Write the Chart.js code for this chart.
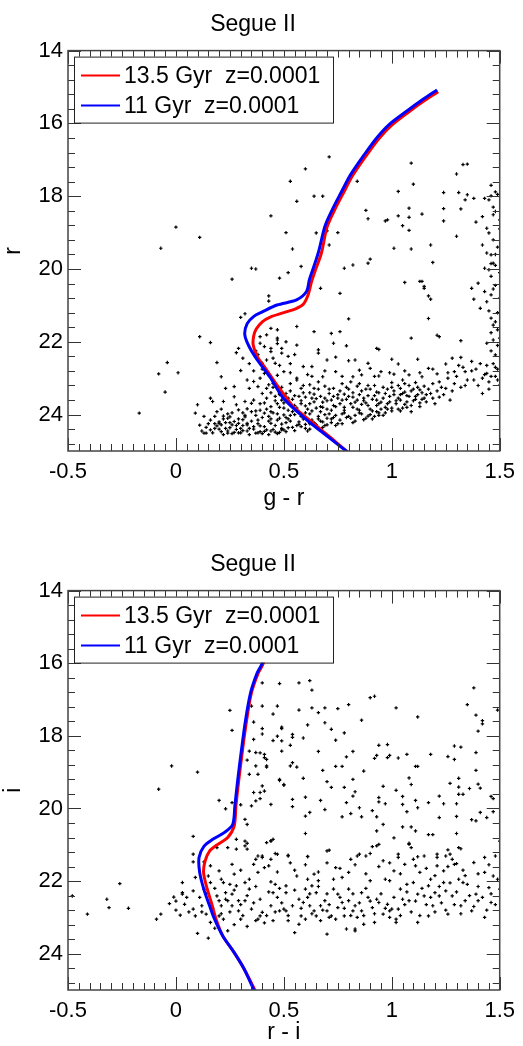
<!DOCTYPE html>
<html>
<head>
<meta charset="utf-8">
<title>Segue II</title>
<script src="https://cdn.jsdelivr.net/npm/chart.js@4/dist/chart.umd.min.js"></script>
<style>
body{margin:0;background:#fff}
#wrap{position:relative;width:523px;height:1046px;overflow:hidden}
.pane{position:absolute;left:0;width:523px}
</style>
</head>
<body>
<div id="wrap">
  <div class="pane" style="top:0;height:540px"><canvas id="cmdGR"></canvas></div>
  <div class="pane" style="top:540px;height:506px"><canvas id="cmdRI"></canvas></div>
</div>
<script>
// --- datos ---
var xTicks=[-0.5,0,0.5,1,1.5];
var yTicks=[14,16,18,20,22,24];
var labelOld='13.5 Gyr  z=0.0001';
var labelYoung='11 Gyr  z=0.0001';

// isocronas panel superior (g-r, r)
var isoOldGR=[[1.215,15.13],[1.15,15.38],[1.08,15.68],[1.00,16.05],[0.94,16.42],[0.88,16.9],[0.82,17.42],[0.775,17.92],[0.735,18.38],[0.70,18.85],[0.674,19.56],[0.645,20.05],[0.628,20.35],[0.613,20.7],[0.59,20.97],[0.559,21.08],[0.50,21.2],[0.437,21.32],[0.40,21.45],[0.372,21.65],[0.36,21.85],[0.358,22.09],[0.377,22.41],[0.415,22.73],[0.46,23.12],[0.505,23.48],[0.544,23.78],[0.635,24.23],[0.72,24.65],[0.80,25.05]];
var isoYoungGR=[[1.21,15.08],[1.14,15.36],[1.07,15.66],[0.99,16.02],[0.93,16.4],[0.87,16.88],[0.81,17.4],[0.765,17.9],[0.725,18.36],[0.69,18.83],[0.662,19.5],[0.635,20.0],[0.618,20.3],[0.605,20.62],[0.559,20.85],[0.468,20.99],[0.40,21.18],[0.361,21.3],[0.33,21.5],[0.319,21.8],[0.339,22.13],[0.377,22.5],[0.437,22.98],[0.498,23.55],[0.589,24.06],[0.681,24.5],[0.80,25.05]];
// isocronas panel inferior (r-i, i)
var isoOldRI=[[0.43,15.2],[0.405,16.0],[0.382,16.26],[0.35,16.81],[0.328,17.55],[0.309,18.37],[0.29,19.28],[0.278,19.93],[0.27,20.48],[0.24,20.8],[0.194,20.99],[0.155,21.18],[0.135,21.45],[0.128,21.76],[0.141,22.13],[0.164,22.59],[0.186,23.05],[0.217,23.51],[0.27,23.97],[0.316,24.42],[0.37,25.05]];
var isoYoungRI=[[0.425,15.2],[0.40,15.99],[0.377,16.26],[0.346,16.81],[0.323,17.55],[0.304,18.37],[0.285,19.28],[0.273,19.93],[0.263,20.44],[0.225,20.66],[0.171,20.85],[0.129,21.05],[0.107,21.35],[0.11,21.76],[0.129,22.22],[0.156,22.68],[0.179,23.05],[0.217,23.51],[0.27,23.97],[0.316,24.42],[0.365,25.05]];

// estrellas panel superior [g-r, r]
var starsGR=[
[0.71,16.92],[0.60,17.25],[1.09,17.09],[0.53,17.59],[0.84,17.59],[1.10,17.67],[1.30,17.39],[1.33,17.13],[1.35,17.12],[0.56,18.14],[0.64,18.0],[0.68,18.0],[1.03,17.87],[1.24,17.9],[1.31,17.9],[1.35,17.96],[1.34,18.1],[1.38,18.06],[1.43,18.06],[1.46,17.99],[1.48,17.88],[1.45,18.1],[0.44,18.54],[0.88,18.39],[0.89,18.62],[0.97,18.68],[1.03,18.54],[1.08,18.33],[1.08,18.58],[1.14,18.49],[1.05,18.81],[1.08,18.94],[1.24,18.34],[1.24,18.68],[1.32,18.35],[1.39,18.71],[1.42,18.56],[1.47,18.51],[1.48,18.42],[1.50,18.65],[1.44,18.88],[1.45,19.01],[1.30,19.1],[0.51,19.0],[0.65,19.01],[0.75,19.0],[0.70,18.95],
[0.54,19.45],[0.71,19.34],[1.01,19.43],[1.09,19.45],[1.18,19.34],[0.98,18.65],[1.42,19.34],[1.44,19.56],[1.46,19.61],[1.47,19.84],[1.45,20.02],[1.43,19.98],[1.40,20.39],[1.37,20.53],[1.43,20.62],[1.38,20.83],[1.41,21.08],[1.44,20.9],[1.46,20.71],[1.47,21.54],[1.49,21.67],[1.47,21.95],[1.44,22.04],[1.48,22.36],[1.44,22.87],[1.49,23.05],[1.50,23.19],[1.42,23.42],[0.48,20.25],[0.52,20.1],[0.58,19.93],[0.67,20.53],[0.76,20.67],[0.78,19.98],[0.82,19.89],[0.89,19.84],[0.90,19.73],[1.06,20.37],[1.13,20.34],[1.14,20.34],[1.15,20.53],[1.15,20.48],[1.17,20.74],[1.18,20.83],[1.19,19.82],[1.17,21.36],[1.21,21.82],[1.22,21.86],[1.32,21.97],[1.09,21.9],[0.80,21.37],[0.76,21.72],[0.72,21.77],[0.64,21.72],[0.56,21.58],[0.47,21.67],[0.47,21.9],[0.49,22.18],[0.56,22.09],[0.44,22.18],[0.39,22.04],[0.73,22.04],[0.79,22.11],[0.66,22.22],[0.66,22.31],[0.70,22.5],[0.74,22.42],[0.80,22.52],[0.83,22.5],[0.93,22.18],[0.94,22.21],[0.89,22.59],[1.00,22.48],[1.03,22.61],[1.12,22.48],[1.17,22.73],[1.25,22.61],[1.28,22.45],[1.32,22.43],[1.37,22.54],[1.29,22.82],[1.34,22.82],[1.21,22.88],[1.14,22.96],[1.08,22.91],[1.05,23.05],[1.01,22.89],[0.95,22.82],[0.94,22.94],[0.90,22.73],[0.86,22.91],[0.82,22.96],[0.74,22.82],[0.68,22.96],[0.63,22.68],[0.59,22.68],[0.56,23.0],
[1.47,19.2],[1.49,19.4],[1.46,20.2],[1.48,20.45],[1.49,21.2],[1.46,21.35],[1.50,21.9],[1.47,22.6],[1.49,22.75],[1.45,23.3],[1.48,19.9],[1.50,20.8],
[1.46,17.7],[1.49,17.95],[1.47,18.3],[1.50,18.9],[1.48,19.6],[1.46,19.85],[1.50,20.1],[1.47,20.55],[1.45,21.15],[1.48,21.45],[1.46,21.75],[1.49,22.1],[1.46,22.25],[1.48,22.95],
[0.00,18.85],[0.11,19.13],[-0.07,19.43],[0.35,19.98],[0.37,20.0],[0.26,20.28],[0.43,20.74],[0.43,20.88],[0.32,21.23],[0.30,21.33],[0.11,21.86],[0.16,22.02],[0.29,22.18],[0.28,22.3],[-0.04,22.57],[0.19,22.57],[-0.08,22.88],[0.01,22.85],[0.30,22.79],[0.21,22.96],[-0.05,23.38],[0.23,23.28],[0.27,23.23],[0.16,23.55],[0.17,23.64],[0.22,23.64],[0.10,23.73],[0.27,23.51],[-0.17,23.96],[0.09,23.96],[0.11,24.29],[0.13,24.51],[0.14,24.51],[0.16,24.15],[0.19,23.92],[0.22,24.04],[0.25,24.06],[0.20,24.24],[0.18,24.38],[0.23,24.38],[0.24,24.51],[0.29,24.24],[0.30,24.38],[0.32,24.06],[0.32,23.64],[0.35,23.69],[0.34,23.28],[0.38,23.23],[0.39,23.0],[0.41,22.87],[0.40,22.59],[0.42,22.5],[0.44,22.27],[0.41,22.13],[0.39,21.86],[0.42,21.81],[0.44,21.63],[0.47,21.95],[0.49,22.31],[0.46,22.59],[0.50,22.82],[0.45,23.14],[0.48,23.42],[0.44,23.78],[0.41,23.96],[0.38,24.15],[0.36,24.33],[0.44,24.24],[0.47,24.15],[0.50,24.01],[0.49,24.42],[0.42,24.42],[0.37,24.51],[0.35,23.92],[0.29,23.87],[0.28,23.73],[0.36,23.09],[0.42,23.28],
[0.34,22.6],[0.36,22.8],[0.38,22.35],[0.43,22.9],[0.45,22.45],[0.48,22.65],[0.52,22.4],[0.53,22.6],[0.37,22.25],[0.40,22.75],[0.47,22.05],[0.51,22.0],[0.55,22.35],[0.31,22.45],[0.33,23.05],
[0.16,24.42],[0.19,24.31],[0.21,24.47],[0.23,24.22],[0.25,24.36],[0.27,24.49],[0.29,24.12],[0.31,24.30],[0.33,24.45],[0.35,24.18],[0.18,24.05],[0.24,23.98],[0.28,24.41],[0.32,24.02],[0.34,24.55],[0.26,24.28],[0.22,24.55],[0.30,24.50],[0.20,24.20],[0.14,24.35],
[0.12,24.45],[0.15,24.25],[0.17,24.50],[0.20,24.40],[0.22,24.12],[0.24,24.45],[0.26,23.95],[0.28,24.30],[0.13,24.05],[0.18,24.25],[0.21,23.85],[0.25,24.22],[0.29,24.50],[0.31,23.95],[0.33,24.28],
[0.36,24.40],[0.38,24.25],[0.39,24.47],[0.40,24.08],[0.41,24.33],[0.42,23.85],[0.43,24.18],[0.44,24.45],[0.45,23.95],[0.46,24.30],[0.47,23.70],[0.48,24.10],[0.49,24.38],[0.50,23.82],[0.51,24.22],[0.52,23.55],[0.53,24.02],[0.54,24.35],[0.55,23.75],[0.37,23.90],[0.39,23.70],[0.42,23.55],[0.44,23.40],[0.46,24.48],[0.48,23.45],[0.50,24.42],[0.52,24.12],[0.54,23.92],[0.40,24.52],[0.43,24.55],[0.47,24.52],[0.51,24.47],[0.53,23.35],[0.45,23.25],[0.49,23.60],
[0.56,24.30],[0.57,23.50],[0.58,24.05],[0.59,23.20],[0.60,24.38],[0.61,23.85],[0.62,23.40],[0.63,24.15],[0.64,23.65],[0.65,24.28],[0.66,23.10],[0.67,23.92],[0.68,24.35],[0.69,23.55],[0.70,24.10],[0.71,23.30],[0.72,24.22],[0.73,23.75],[0.74,24.02],[0.75,23.45],[0.56,23.05],[0.58,23.70],[0.60,23.95],[0.62,24.25],[0.64,23.28],[0.66,24.05],[0.68,23.80],[0.70,23.62],[0.72,23.88],[0.74,24.30],[0.57,24.20],[0.61,24.45],[0.63,23.55],[0.65,23.82],[0.67,24.18],[0.69,24.30],[0.71,23.98],[0.73,23.50],[0.59,23.40],[0.63,22.95],
[0.76,24.15],[0.77,23.60],[0.78,23.95],[0.79,23.25],[0.80,24.05],[0.81,23.70],[0.82,23.40],[0.83,24.18],[0.84,23.85],[0.85,23.15],[0.86,23.98],[0.87,23.55],[0.88,24.10],[0.89,23.75],[0.90,23.30],[0.91,23.90],[0.92,24.05],[0.93,23.60],[0.94,23.40],[0.95,23.85],[0.76,23.35],[0.78,23.80],[0.80,23.50],[0.82,24.22],[0.84,23.60],[0.86,23.35],[0.88,23.68],[0.90,24.00],[0.92,23.48],[0.94,23.95],[0.77,24.25],[0.81,23.10],[0.85,23.88],[0.89,23.20],[0.93,23.75],
[0.96,23.55],[0.97,23.80],[0.98,23.30],[0.99,23.65],[1.00,23.90],[1.01,23.45],[1.02,23.70],[1.03,23.20],[1.04,23.60],[1.05,23.82],[1.06,23.38],[1.07,23.65],[1.08,23.50],[1.09,23.75],[1.10,23.30],[1.11,23.58],[1.12,23.45],[1.13,23.68],[1.14,23.40],[1.15,23.55],[0.97,23.95],[1.00,23.25],[1.03,23.85],[1.06,23.15],[1.09,23.92],[1.12,23.25],[0.98,23.70],[1.04,23.45],
[1.17,23.30],[1.19,23.55],[1.22,23.10],[1.24,23.45],[1.26,23.00],[1.28,23.35],[1.30,22.95],[1.32,23.25],[1.35,23.05],[1.37,22.80],[1.40,23.20],[1.43,22.90],[1.45,23.10],[1.48,22.70],[1.20,23.70],[1.27,23.60],[1.33,22.70],[1.41,22.60],
[0.31,24.44],[0.38,24.50],[0.45,24.41],[0.52,24.36],[0.58,24.33],[0.62,24.40],[0.66,24.36],[0.70,24.28],[0.26,24.52],[0.34,24.38],[0.41,24.46],[0.48,24.49],[0.55,24.44],[0.60,24.27],
[0.21,24.28],[0.27,24.19],[0.33,24.24],[0.39,24.31],[0.44,24.12],[0.49,24.26],[0.53,24.18],[0.57,24.27],[0.61,24.14],[0.64,24.22],[0.68,24.20],[0.72,24.12],[0.75,24.25],[0.79,24.08],[0.83,24.02],[0.87,24.14],[0.91,24.12],[0.94,24.02],
[0.24,24.10],[0.31,24.14],[0.37,24.02],[0.43,24.05],[0.47,23.98],[0.51,24.08],[0.55,24.00],[0.59,24.12],[0.62,23.98],[0.66,24.12],[0.69,24.00],[0.73,24.08],[0.77,23.98],[0.81,24.10],[0.85,23.95],[0.89,24.04],[0.93,23.92],[0.96,24.02],[1.00,23.82],[1.04,23.90],[1.07,23.80],
[0.33,23.84],[0.39,23.88],[0.44,23.92],[0.48,23.80],[0.52,23.88],[0.56,23.82],[0.60,23.76],[0.63,23.90],[0.67,23.78],[0.70,23.85],[0.74,23.78],[0.78,23.88],[0.82,23.80],[0.86,23.72],[0.90,23.85],[0.94,23.70],[0.98,23.85],[1.02,23.62],[1.06,23.72],[1.10,23.62],[1.13,23.78],[1.16,23.65],
[0.36,23.60],[0.41,23.68],[0.46,23.62],[0.50,23.68],[0.54,23.58],[0.58,23.62],[0.62,23.70],[0.65,23.56],[0.68,23.66],[0.72,23.60],[0.76,23.70],[0.79,23.58],[0.83,23.66],[0.87,23.62],[0.91,23.58],[0.95,23.66],[0.99,23.50],[1.03,23.55],[1.07,23.48],[1.11,23.50],[1.14,23.58],[1.18,23.42],[1.22,23.52],
[0.40,23.42],[0.46,23.50],[0.51,23.42],[0.55,23.48],[0.60,23.52],[0.64,23.44],[0.67,23.50],[0.71,23.42],[0.75,23.55],[0.78,23.44],[0.82,23.52],[0.85,23.45],[0.89,23.48],[0.93,23.38],[0.97,23.42],[1.01,23.35],[1.05,23.42],[1.09,23.35],[1.13,23.32],[1.16,23.45],[1.21,23.35],[1.25,23.28],
[0.43,23.18],[0.49,23.25],[0.53,23.15],[0.58,23.28],[0.62,23.18],[0.66,23.30],[0.69,23.22],[0.73,23.28],[0.77,23.15],[0.80,23.30],[0.84,23.22],[0.88,23.30],[0.92,23.20],[0.96,23.25],[1.00,23.12],[1.04,23.28],[1.08,23.20],[1.11,23.12],[1.15,23.22],[1.19,23.15],[1.23,23.25],[1.29,23.15],[1.34,23.20],[1.38,23.05],[1.42,23.00],[1.46,22.95],
[0.47,22.92],[0.53,22.85],[0.61,22.90],[0.69,22.80],[0.77,22.95],[0.85,22.78],[0.92,22.95],[0.99,22.85],[1.06,22.80],[1.13,22.85],[1.19,22.75],[1.26,22.85],[1.31,22.65],[1.39,22.75],[1.44,22.65]
];

// estrellas panel inferior [r-i, i]
var starsRI=[
[0.48,16.56],[0.57,16.54],[0.62,16.48],[0.63,16.74],[0.90,16.95],[0.92,16.91],[1.38,16.68],[0.40,17.18],[0.47,17.18],[0.57,17.29],[0.63,17.23],[0.69,17.23],[0.66,17.36],[0.75,17.25],[0.80,17.14],[1.02,17.23],[1.12,17.48],[0.86,17.57],[1.35,17.14],[1.39,17.43],[1.42,17.58],[1.42,17.67],[1.49,17.29],[0.45,17.4],[0.61,17.7],[0.69,17.64],[0.72,17.82],[0.78,17.92],[0.40,17.8],[0.40,17.95],[0.49,17.76],[0.47,18.01],[0.45,18.13],[0.49,18.14],[0.54,17.96],[0.54,18.04],[0.59,18.06],[0.53,18.26],[0.49,18.42],[0.74,18.12],[1.40,17.87],[0.39,18.47],[0.41,18.51],[0.41,18.6],[0.66,18.43],[0.82,18.43],[0.79,18.58],[0.94,18.26],[0.98,18.24],[0.93,18.54],[0.92,18.62],[0.98,18.6],[0.99,18.54],[1.03,18.61],[1.07,18.51],[1.18,18.51],[1.29,18.28],[1.32,18.31],[1.26,18.57],[1.29,18.65],[1.39,18.46],[0.42,18.86],[0.53,18.83],[0.54,18.74],[0.56,18.86],[0.74,18.84],[0.77,18.84],[0.68,18.95],[0.87,18.97],[1.11,18.84],[1.12,18.84],[1.39,18.95],[0.59,19.17],[0.48,19.23],[0.50,19.36],[0.70,19.26],[0.72,19.42],[0.82,19.2],[0.78,19.42],[0.96,19.39],[1.02,19.5],[1.08,19.16],[1.09,19.34],[1.27,19.31],[1.31,19.17],[1.31,19.41],[1.40,19.33],[1.41,19.44],[1.36,19.45],[1.31,19.61],[1.33,19.61],[1.46,19.67],[1.47,19.73],[0.39,19.56],[0.41,19.52],[0.54,19.75],[0.54,19.95],[0.60,19.69],[0.44,19.89],[0.67,19.78],[0.79,19.84],[0.82,19.66],[0.83,19.54],[0.94,19.7],[0.94,19.82],[0.97,19.87],[1.05,19.67],[1.05,19.89],[1.11,19.78],[1.12,19.98],[1.17,19.84],[1.22,19.66],[1.24,19.87],[1.30,19.87],[0.69,20.03],[0.62,20.11],[0.60,20.21],[0.77,20.23],[0.81,20.14],[0.85,19.98],[0.86,20.23],[0.91,20.06],[0.93,20.23],[0.96,20.44],[1.07,20.09],[1.22,20.25],[1.30,20.22],[1.37,20.31],[1.39,20.34],[1.41,20.11],[1.44,20.25],[1.47,20.09],[0.44,20.89],[0.60,20.69],[0.93,20.62],[1.01,20.81],[1.05,20.51],[1.09,20.51],[1.11,20.62],[1.17,20.72],[1.19,20.72],[1.30,20.69],[1.08,20.96],[1.09,21.08],[0.91,21.05],[0.94,20.99],[0.71,21.15],[0.61,21.33],[0.52,21.31],[0.46,21.24],[0.44,21.4],[0.40,21.31],[0.81,21.4],[0.84,21.31],[0.88,21.31],[0.90,21.24],[0.96,21.44],[1.03,21.26],[1.03,21.35],[1.12,21.33],[1.15,21.31],[1.21,21.26],[1.21,21.35],[1.25,21.31],[1.26,21.14],[1.31,21.08],[1.32,21.11],[1.28,21.4],[1.30,21.52],[1.38,21.49],[1.43,21.35],[1.48,21.31],[1.50,20.9],
[0.25,17.3],[0.26,17.85],[-0.02,18.83],[0.10,19.0],[-0.08,19.47],[0.20,19.78],[0.26,19.84],[0.23,20.01],[0.08,20.77],[0.30,19.9],[0.32,20.3],[0.33,20.44],[0.35,17.18],[0.36,17.62],[0.40,16.54],[0.36,18.1],[0.34,18.42],[0.37,18.46],[0.42,18.65],[0.33,18.67],[0.37,18.83],[0.42,18.83],[0.34,19.06],[0.38,19.06],[0.49,17.8],[0.50,19.34],[0.48,19.2],[0.40,19.38],[0.36,19.56],[0.39,19.73],[0.35,19.93],[0.37,19.79],[0.28,20.85],[0.24,21.08],[0.28,21.12],[0.32,20.9],[0.33,20.96],[0.33,21.12],[0.44,20.9],[0.47,21.26],[0.38,21.31],[0.37,21.4],[0.19,21.08],[0.08,21.26],[0.08,21.47],[0.13,21.47],
[-0.26,22.07],[-0.48,22.41],[-0.32,22.5],[-0.31,22.73],[-0.22,22.75],[-0.41,22.91],[-0.09,23.05],[-0.07,22.91],[-0.03,22.62],[-0.01,22.44],[0.00,22.8],[0.02,22.94],[0.00,22.55],[0.03,22.32],[0.03,22.36],[0.03,22.04],[0.04,22.64],[0.08,22.27],[0.08,22.77],[0.09,22.96],[0.09,21.9],[0.10,23.44],[0.15,23.57],[0.11,22.45],[0.12,22.68],[0.13,22.22],[0.14,22.91],[0.16,23.14],[0.15,21.86],[0.16,22.04],[0.16,21.58],[0.20,21.72],[0.19,22.41],[0.21,22.68],[0.20,22.96],[0.22,23.05],[0.24,23.37],[0.22,22.04],[0.23,22.32],[0.25,22.09],[0.26,21.54],[0.27,21.81],[0.28,22.13],[0.29,22.54],[0.26,22.68],[0.29,22.82],[0.30,23.05],[0.32,22.54],[0.32,22.04],[0.34,22.22],[0.35,22.77],[0.37,23.09],[0.38,23.05],[0.39,22.96],[0.40,22.86],[0.36,21.54],[0.40,21.35],[0.38,21.76],[0.41,21.63],[0.43,21.58],[0.44,22.02],[0.46,22.09],[0.45,22.32],[0.47,22.45],[0.44,22.68],[0.48,22.82],[0.45,23.09],[0.51,22.32],[0.50,22.77],[0.42,20.94],[0.32,21.03],[0.45,20.85],[0.26,22.36],[0.24,22.54],[0.20,22.54],
[0.52,21.29],[0.61,21.32],[0.70,21.17],[0.51,22.13],[0.51,22.82],[0.52,23.09],[0.54,22.68],[0.55,23.42],[0.56,21.86],[0.57,23.19],[0.57,22.5],[0.58,22.96],[0.59,22.59],[0.60,22.22],[0.61,21.95],[0.61,22.45],[0.62,22.68],[0.63,22.13],[0.64,22.82],[0.64,21.81],[0.65,22.32],[0.65,22.96],[0.66,21.99],[0.67,22.68],[0.67,23.09],[0.69,22.54],[0.70,23.46],[0.70,22.82],[0.71,23.0],[0.72,22.96],[0.73,21.95],[0.73,22.22],[0.74,21.63],[0.75,22.36],[0.75,22.73],[0.77,21.9],[0.77,22.59],[0.78,22.96],[0.79,23.32],[0.80,22.22],[0.80,21.76],[0.80,22.54],[0.82,22.82],[0.83,23.32],[0.83,22.68],[0.84,23.0],[0.85,21.26],[0.86,22.32],[0.86,22.82],[0.87,23.19],[0.89,22.45],[0.90,21.99],[0.91,22.73],[0.92,23.14],[0.93,22.5],[0.93,21.03],[0.94,22.59],[0.96,22.91],[0.97,21.95],[0.98,22.64],[0.99,22.82],[0.99,21.99],[1.00,22.77],[1.01,21.72],[1.02,23.05],[1.03,22.77],[1.04,22.22],[1.05,22.5],[1.06,21.54],[1.07,22.09],[1.08,20.99],[1.08,22.54],[1.10,22.04],[1.11,21.58],[1.12,23.14],[1.12,22.36],[1.13,21.76],[1.15,22.41],[1.17,22.96],[1.17,22.13],[1.18,21.95],[1.20,22.32],[1.19,22.68],[1.21,21.58],[1.22,22.41],[1.24,21.72],[1.24,22.04],[1.25,22.27],[1.26,22.91],[1.27,21.26],[1.28,22.41],[1.29,21.54],[1.31,21.95],[1.32,22.68],[1.33,22.04],[1.34,22.54],[1.35,22.09],[1.37,22.82],[1.39,22.36],[1.40,22.54],[1.43,23.0],[1.43,21.76],[1.45,22.18],[1.46,22.59],[1.47,21.86],[1.50,22.22],[0.83,23.37],[1.02,23.14],
[0.52,22.95],[0.55,22.25],[0.58,22.75],[0.60,23.05],[0.62,22.35],[0.63,22.90],[0.66,22.15],[0.68,22.80],[0.70,22.35],[0.71,22.65],[0.74,23.05],[0.76,22.45],[0.78,22.75],[0.81,22.95],[0.82,22.35],[0.85,22.60],[0.87,22.95],[0.88,22.20],[0.90,22.55],[0.92,22.90],[0.95,22.35],[0.97,22.75],[0.99,23.00],[1.01,22.45],[1.04,22.95],[1.06,22.65],[1.07,22.30],[1.09,22.85],[1.11,22.55],[1.13,22.95],[1.14,22.20],[1.16,22.65],[1.18,22.45],[1.20,22.85],[1.22,22.15],[1.23,22.60],[1.25,22.80],[1.27,22.05],[1.29,22.65],[1.30,22.30],[1.32,22.90],[1.34,21.85],[1.36,22.40],[1.38,22.70],[1.40,22.15],[1.42,22.45],[1.44,22.80],[1.46,22.35],[1.48,22.65],[1.49,21.95],
[0.55,21.70],[0.60,21.55],[0.66,21.75],[0.70,21.50],[0.76,21.65],[0.83,21.55],[0.88,21.80],[0.94,21.60],[0.99,21.50],[1.04,21.80],[1.10,21.40],[1.16,21.65],[1.20,21.85],[1.26,21.60],[1.33,21.70],[1.40,21.80],[1.45,21.55],
[0.12,22.85],[0.14,22.35],[0.17,22.75],[0.18,22.20],[0.21,22.90],[0.23,22.50],[0.25,22.85],[0.27,22.25],[0.30,22.65],[0.31,22.95],[0.33,22.40],[0.36,22.60],[0.37,22.15],[0.39,22.50],[0.42,22.95],[0.43,22.30],[0.46,22.85],[0.48,22.20],[0.49,22.60],[0.41,23.15],[0.27,23.20],[0.33,23.25],[0.18,23.30],[0.06,22.85],[0.05,22.45],[0.21,21.95],[0.30,21.70],[0.34,21.95],[0.47,21.75],[0.53,21.50]
];

var FONT='"Liberation Sans", Arial, Helvetica, sans-serif';

function toXY(list){return list.map(function(p){return{x:p[0],y:p[1]};});}

// marco con marcas hacia dentro en los cuatro lados (estilo IDL)
var idlFrame={
  id:'idlFrame',
  afterDatasetsDraw:function(chart){
    var a=chart.chartArea,ctx=chart.ctx,sx=chart.scales.x,sy=chart.scales.y,i,v,p,len;
    ctx.save();
    ctx.strokeStyle='#333';
    ctx.lineWidth=1;
    ctx.beginPath();
    for(i=0;i<=40;i++){
      v=sx.min+i*0.05;p=Math.round(sx.getPixelForValue(v))+0.5;len=(i%10===0)?13:7;
      ctx.moveTo(p,a.bottom);ctx.lineTo(p,a.bottom-len);
      ctx.moveTo(p,a.top);ctx.lineTo(p,a.top+len);
    }
    for(i=0;i<=27;i++){
      v=sy.min+i*0.4;if(v>sy.max+1e-6)break;
      p=Math.round(sy.getPixelForValue(v))+0.5;len=(i%5===0)?13:7;
      ctx.moveTo(a.left,p);ctx.lineTo(a.left+len,p);
      ctx.moveTo(a.right,p);ctx.lineTo(a.right-len,p);
    }
    ctx.stroke();
    ctx.lineWidth=1.5;
    ctx.strokeStyle='#444';
    ctx.strokeRect(a.left,a.top,a.right-a.left,a.bottom-a.top);
    ctx.restore();
  }
};

// leyenda dentro del area, arriba a la izquierda
var isoLegend={
  id:'isoLegend',
  afterDraw:function(chart){
    var a=chart.chartArea,ctx=chart.ctx;
    var bx=a.left+6,by=a.top+6,bw=259,bh=66;
    ctx.save();
    ctx.fillStyle='#fff';ctx.fillRect(bx,by,bw,bh);
    ctx.strokeStyle='#222';ctx.lineWidth=1;ctx.strokeRect(bx+0.5,by+0.5,bw,bh);
    var rows=chart.data.datasets.filter(function(d){return d.showLine;});
    rows.sort(function(p,q){return p.legendRow-q.legendRow;});
    ctx.font='23px '+FONT;ctx.textBaseline='middle';ctx.fillStyle='#000';
    rows.forEach(function(d,i){
      var y=by+19+i*30;
      ctx.strokeStyle=d.borderColor;ctx.lineWidth=2;
      ctx.beginPath();ctx.moveTo(bx+7,y);ctx.lineTo(bx+46,y);ctx.stroke();
      ctx.fillText(d.label,bx+50,y+1);
    });
    ctx.restore();
  }
};

function makeCmd(id,xLabel,yLabel,isoOld,isoYoung,stars,xAxisHeight,xTitlePad){
  return new Chart(document.getElementById(id),{
    type:'scatter',
    data:{datasets:[
      {label:labelOld,data:toXY(isoOld),showLine:true,borderColor:'#ff0000',backgroundColor:'#ff0000',borderWidth:3,pointRadius:0,tension:0.3,fill:false,order:1,legendRow:0},
      {label:labelYoung,data:toXY(isoYoung),showLine:true,borderColor:'#0000ff',backgroundColor:'#0000ff',borderWidth:3,pointRadius:0,tension:0.3,fill:false,order:0,legendRow:1},
      {label:'stars',data:toXY(stars),showLine:false,pointStyle:'cross',pointRadius:1.7,borderColor:'#000',borderWidth:1.2,order:2}
    ]},
    options:{
      responsive:true,maintainAspectRatio:false,animation:false,
      layout:{padding:{left:0,right:17,top:0,bottom:0}},
      plugins:{
        legend:{display:false},tooltip:{enabled:false},
        title:{display:true,text:'Segue II',color:'#000',font:{family:FONT,size:23,weight:'normal'},padding:{top:11,bottom:12}}
      },
      scales:{
        x:{type:'linear',min:-0.5,max:1.5,
          grid:{display:false,drawTicks:false},border:{display:false},
          afterBuildTicks:function(s){s.ticks=xTicks.map(function(v){return{value:v};});},
          afterFit:function(s){s.height=xAxisHeight;},
          ticks:{color:'#000',font:{family:FONT,size:22},padding:8,maxRotation:0,autoSkip:false,callback:function(v){return String(v);}},
          title:{display:true,text:xLabel,color:'#000',font:{family:FONT,size:23},padding:{top:0,bottom:xTitlePad}}
        },
        y:{type:'linear',reverse:true,min:14,max:25,
          grid:{display:false,drawTicks:false},border:{display:false},
          afterBuildTicks:function(s){s.ticks=yTicks.map(function(v){return{value:v};});},
          afterFit:function(s){s.width=68;},
          ticks:{color:'#000',font:{family:FONT,size:22},padding:5,autoSkip:false,callback:function(v){return String(v);}},
          title:{display:true,text:yLabel,color:'#000',font:{family:FONT,size:23},padding:{top:0,bottom:0}}
        }
      }
    },
    plugins:[idlFrame,isoLegend]
  });
}

makeCmd('cmdGR','g - r','r',isoOldGR,isoYoungGR,starsGR,89,28);
makeCmd('cmdRI','r - i','i',isoOldRI,isoYoungRI,starsRI,56,0);
</script>
</body>
</html>
